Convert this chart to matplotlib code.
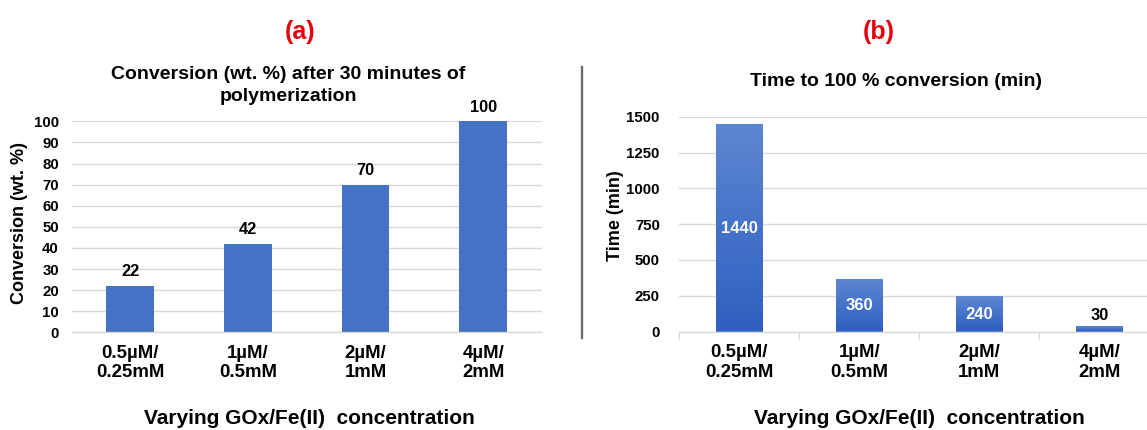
import numpy as np
import matplotlib
matplotlib.use("Agg")
import matplotlib.pyplot as plt
from matplotlib.lines import Line2D
from matplotlib.colors import LinearSegmentedColormap

plt.rcParams['font.family'] = ['Liberation Sans', 'DejaVu Sans']
plt.rcParams['font.weight'] = 'bold'

# ---- data ----
categories = ["0.5µM/\n0.25mM", "1µM/\n0.5mM", "2µM/\n1mM", "4µM/\n2mM"]
conversion_30min = [22, 42, 70, 100]          # wt. %
time_to_full = [1440, 360, 240, 30]           # min
conv_ticks = list(range(0, 101, 10))
time_ticks = list(range(0, 1501, 250))

W, H = 1147, 430
fig = plt.figure(figsize=(W / 100, H / 100), dpi=100)
fig.patch.set_facecolor("white")


def px_axes(left, top, right, bottom):
    return fig.add_axes([left / W, 1 - bottom / H, (right - left) / W, (bottom - top) / H])


def fig_text(x, y, s, **kw):
    fig.text(x / W, 1 - y / H, s, **kw)


GRID = "#d9d9d9"
BLUE = "#4472c4"


def style_axes(ax, yticks):
    ax.set_facecolor("white")
    for side in ("top", "right", "left"):
        ax.spines[side].set_visible(False)
    ax.spines["bottom"].set_color(GRID)
    ax.spines["bottom"].set_linewidth(1.0)
    ax.set_yticks(yticks)
    ax.yaxis.grid(True, color=GRID, linewidth=1.0)
    ax.set_axisbelow(True)
    ax.tick_params(axis="y", length=0, pad=9, labelsize=10.8)
    ax.tick_params(axis="x", length=0, pad=9, labelsize=13.4)
    ax.set_xlim(-0.5, len(categories) - 0.5)
    ax.set_xticks(range(len(categories)))
    ax.set_xticklabels(categories, linespacing=1.2)
    for lbl in ax.get_xticklabels() + ax.get_yticklabels():
        lbl.set_fontweight("bold")


# ---- panel (a): conversion after 30 minutes ----
ax_a = px_axes(71.5, 121.4, 542.0, 332.3)
x = np.arange(len(categories))
bars_a = ax_a.bar(x, conversion_30min, width=0.405, color=BLUE, zorder=2)
style_axes(ax_a, conv_ticks)
ax_a.set_ylim(0, 100)
for rect, v in zip(bars_a, conversion_30min):
    ax_a.annotate(f"{v}", (rect.get_x() + rect.get_width() / 2, v),
                  xytext=(0, 10.3), textcoords="offset points",
                  ha="center", va="center", fontsize=11.8, fontweight="bold")

# ---- panel (b): time to full conversion ----
ax_b = px_axes(679.3, 116.9, 1159.3, 331.5)
bars_b = ax_b.bar(x, time_to_full, width=0.39, color=BLUE, zorder=2)
style_axes(ax_b, time_ticks)
ax_b.set_ylim(0, 1500)
ax_b.tick_params(axis="y", pad=14)
ax_b.set_xticks(np.arange(-0.5, len(categories), 1.0), minor=True)
ax_b.tick_params(axis="x", which="minor", length=5, color=GRID, width=1.0)

# vertical shading on each bar: lighter at the top, deeper at the base
shade = LinearSegmentedColormap.from_list("bar_shade", ["#2f5fc0", "#5c87d1"])
grad = np.linspace(0, 1, 256).reshape(-1, 1)
for rect in bars_b:
    x0, w, h = rect.get_x(), rect.get_width(), rect.get_height()
    ax_b.imshow(grad, cmap=shade, origin="lower", aspect="auto",
                extent=(x0, x0 + w, 0, h), zorder=3)
ax_b.set_xlim(-0.5, len(categories) - 0.5)
ax_b.set_ylim(0, 1500)

for rect, v in zip(bars_b, time_to_full):
    cx = rect.get_x() + rect.get_width() / 2
    if v >= 150:
        ax_b.text(cx, v / 2, f"{v}", ha="center", va="center", color="white",
                  fontsize=12, fontweight="bold", zorder=4)
    else:
        ax_b.annotate(f"{v}", (cx, v), xytext=(0, 8.5), textcoords="offset points",
                      ha="center", va="center", fontsize=11.8, fontweight="bold",
                      zorder=4)

# ---- titles, axis labels and divider ----
fig_text(299.6, 31.7, "(a)", color="#e8000b", fontsize=18, fontweight="bold",
         ha="center", va="center")
fig_text(879.0, 31.7, "(b)", color="#e8000b", fontsize=18, fontweight="bold",
         ha="center", va="center")

fig_text(288.6, 85.5, "Conversion (wt. %) after 30 minutes of\npolymerization",
         fontsize=14, fontweight="bold", ha="center", va="center", linespacing=1.4)
fig_text(895.7, 81.7, "Time to 100 % conversion (min)",
         fontsize=14, fontweight="bold", ha="center", va="center")

fig_text(20.0, 223.0, "Conversion (wt. %)", rotation=90, fontsize=13,
         fontweight="bold", ha="center", va="center")
fig_text(615.0, 216.0, "Time (min)", rotation=90, fontsize=13,
         fontweight="bold", ha="center", va="center")

fig_text(309.0, 418.0, "Varying GOx/Fe(II)  concentration", fontsize=15,
         fontweight="bold", ha="center", va="center")
fig_text(919.7, 418.0, "Varying GOx/Fe(II)  concentration", fontsize=15,
         fontweight="bold", ha="center", va="center")

fig.add_artist(Line2D([582.3 / W, 582.3 / W], [1 - 66.7 / H, 1 - 338.0 / H],
                      color="#6b6b6b", linewidth=1.7, transform=fig.transFigure))

fig.savefig("out.png", dpi=100, facecolor="white")
